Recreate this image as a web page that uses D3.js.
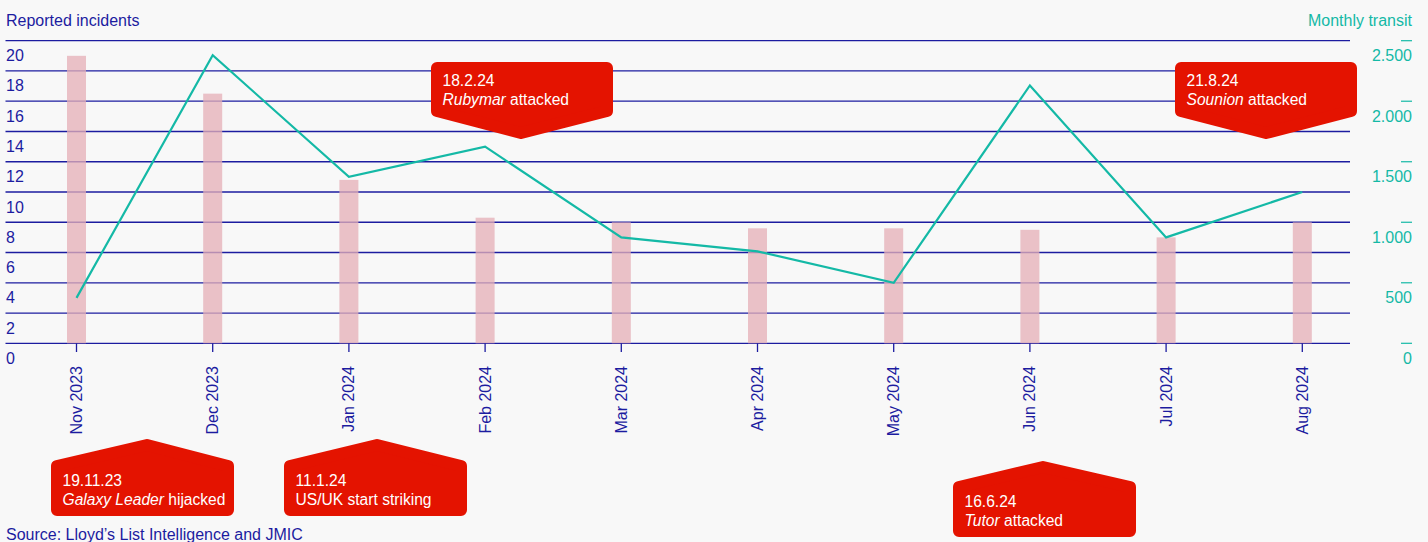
<!DOCTYPE html>
<html>
<head>
<meta charset="utf-8">
<script src="https://cdn.jsdelivr.net/npm/d3@7"></script>
<style>
  html, body { margin: 0; padding: 0; background: #f8f8f8; }
  svg { display: block; font-family: "Liberation Sans", Arial, sans-serif; }
</style>
</head>
<body>
<svg id="chart" width="1428" height="542"></svg>
<script>
// Monthly categories
const months = ["Nov 2023", "Dec 2023", "Jan 2024", "Feb 2024", "Mar 2024",
                "Apr 2024", "May 2024", "Jun 2024", "Jul 2024", "Aug 2024"];
// Reported incidents (bars, left axis)
const incidents = [19, 16.5, 10.8, 8.3, 8.0, 7.6, 7.6, 7.5, 7.0, 8.0];
// Monthly transits (line, right axis)
const transits = [375, 2380, 1375, 1625, 875, 760, 500, 2130, 875, 1250];
// Axis ticks
const leftTicks = [0, 2, 4, 6, 8, 10, 12, 14, 16, 18, 20];
const rightTicks = [0, 500, 1000, 1500, 2000, 2500];
// Event annotations
const eventDates = ["19.11.23", "11.1.24", "18.2.24", "16.6.24", "21.8.24"];
const eventShips = ["Galaxy Leader", "", "Rubymar", "Tutor", "Sounion"];
const eventActions = ["hijacked", "US/UK start striking", "attacked", "attacked", "attacked"];

const svg = d3.select("#chart");
const W = 1428, H = 542;
const navy = "#1c1ca0";
const teal = "#14b9a6";
const red = "#e41300";

svg.append("rect").attr("width", W).attr("height", H).attr("fill", "#f8f8f8");

const x = d3.scalePoint().domain(months).range([76.5, 1302.3]);
const yL = d3.scaleLinear().domain([0, 20]).range([343.3, 40.7]);
const yR = d3.scaleLinear().domain([0, 2500]).range([343.3, 40.7]);

const fmt = d3.formatLocale({ decimal: ",", thousands: ".", grouping: [3], currency: ["", ""] }).format(",");

// Horizontal gridlines
svg.append("g").selectAll("line").data(leftTicks).join("line")
  .attr("x1", 5.5).attr("x2", 1350)
  .attr("y1", d => yL(d)).attr("y2", d => yL(d))
  .attr("stroke", navy).attr("stroke-width", 1.3);

// Left tick labels hang beneath their lines
svg.append("g").selectAll("text").data(leftTicks).join("text")
  .attr("x", 6).attr("y", d => yL(d) + 20.5)
  .attr("fill", navy).attr("font-size", 16)
  .text(d => d);

svg.append("text").attr("x", 6).attr("y", 25.5)
  .attr("fill", navy).attr("font-size", 16).text("Reported incidents");

// Right axis
svg.append("g").selectAll("line").data(rightTicks).join("line")
  .attr("x1", 1401).attr("x2", 1412)
  .attr("y1", d => yR(d)).attr("y2", d => yR(d))
  .attr("stroke", teal).attr("stroke-width", 1.2);
svg.append("g").selectAll("text").data(rightTicks).join("text")
  .attr("x", 1412).attr("y", d => yR(d) + 20.5)
  .attr("text-anchor", "end")
  .attr("fill", teal).attr("font-size", 16)
  .text(d => fmt(d));
svg.append("text").attr("x", 1412).attr("y", 25.5).attr("text-anchor", "end")
  .attr("fill", teal).attr("font-size", 16).text("Monthly transit");

// Bars
const barW = 19;
svg.append("g").selectAll("rect").data(incidents).join("rect")
  .attr("x", (d, i) => x(months[i]) - barW / 2)
  .attr("width", barW)
  .attr("y", d => yL(d))
  .attr("height", d => yL(0) - yL(d))
  .attr("fill", "rgb(229,176,184)")
  .attr("fill-opacity", 0.77);

// X axis ticks and labels
svg.append("g").selectAll("line").data(months).join("line")
  .attr("x1", d => x(d)).attr("x2", d => x(d))
  .attr("y1", yL(0)).attr("y2", 352)
  .attr("stroke", navy).attr("stroke-width", 1.3);
svg.append("g").selectAll("text").data(months).join("text")
  .attr("transform", d => `translate(${x(d) + 5.5},366) rotate(-90)`)
  .attr("text-anchor", "end")
  .attr("fill", navy).attr("font-size", 16)
  .text(d => d);

// Transit line
const line = d3.line()
  .x((d, i) => x(months[i]))
  .y(d => yR(d));
svg.append("path").datum(transits)
  .attr("d", line)
  .attr("fill", "none")
  .attr("stroke", teal).attr("stroke-width", 2.2)
  .attr("stroke-linejoin", "miter");

// Callout boxes: pentagon with rounded corners (stroke-linejoin round)
const layout = [
  { x0: 51,  x1: 234,  top: 462, bottom: 516, tipX: 147,  tipY: 439, up: true },
  { x0: 284, x1: 467,  top: 462, bottom: 516, tipX: 377,  tipY: 439, up: true },
  { x0: 431, x1: 613,  top: 62,  bottom: 115, tipX: 521,  tipY: 139, up: false },
  { x0: 953, x1: 1136, top: 483, bottom: 537, tipX: 1043, tipY: 461, up: true },
  { x0: 1175, x1: 1357, top: 62, bottom: 115, tipX: 1266, tipY: 139, up: false }
];
const r = 6;
const callouts = svg.append("g");
layout.forEach((b, i) => {
  let pts;
  if (b.up) {
    pts = [[b.x0 + r, b.top + r - 2], [b.tipX, b.tipY + r], [b.x1 - r, b.top + r - 2],
           [b.x1 - r, b.bottom - r], [b.x0 + r, b.bottom - r]];
  } else {
    pts = [[b.x0 + r, b.top + r], [b.x1 - r, b.top + r], [b.x1 - r, b.bottom - r + 2],
           [b.tipX, b.tipY - r], [b.x0 + r, b.bottom - r + 2]];
  }
  callouts.append("path")
    .attr("d", d3.line().curve(d3.curveLinearClosed)(pts))
    .attr("fill", red).attr("stroke", red)
    .attr("stroke-width", 2 * r).attr("stroke-linejoin", "round");

  const tx = b.x0 + 11.5;
  callouts.append("text")
    .attr("x", tx).attr("y", b.top + 24)
    .attr("fill", "#fff").attr("font-size", 15.6)
    .text(eventDates[i]);
  const t2 = callouts.append("text")
    .attr("x", tx).attr("y", b.top + 43)
    .attr("fill", "#fff").attr("font-size", 15.6);
  if (eventShips[i]) {
    t2.append("tspan").attr("font-style", "italic").text(eventShips[i]);
    t2.append("tspan").text(" " + eventActions[i]);
  } else {
    t2.text(eventActions[i]);
  }
});

// Source line
svg.append("text").attr("x", 6).attr("y", 540)
  .attr("fill", navy).attr("font-size", 16)
  .text("Source: Lloyd\u2019s List Intelligence and JMIC");
</script>
</body>
</html>
